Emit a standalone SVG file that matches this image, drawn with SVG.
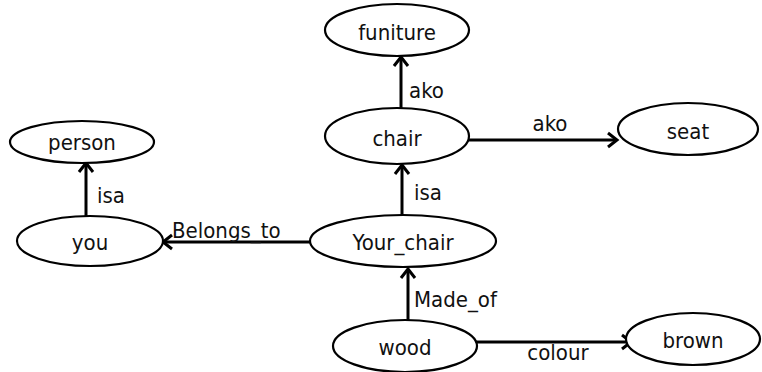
<svg xmlns="http://www.w3.org/2000/svg" width="762" height="372" viewBox="0 0 762 372">
<style>
.n{fill:#fff;stroke:#000;stroke-width:2.2}
.t{font-family:"DejaVu Sans Condensed","DejaVu Sans",sans-serif;font-stretch:condensed;font-size:22px;fill:#111;text-anchor:middle}
.l{font-family:"DejaVu Sans Condensed","DejaVu Sans",sans-serif;font-stretch:condensed;font-size:22px;fill:#111}
.e{stroke:#000;stroke-width:3;fill:none;marker-end:url(#a)}
</style>
<defs>
<marker id="a" markerUnits="userSpaceOnUse" markerWidth="16" markerHeight="18" refX="12" refY="8" orient="auto" viewBox="0 0 16 16">
<path d="M3,1 L12,8 L3,15" fill="none" stroke="#000" stroke-width="3"/>
</marker>
</defs>
<rect width="762" height="372" fill="#fff"/>
<g id="connectors">
<line class="e" x1="401" y1="108" x2="401" y2="57"/>
<line class="e" x1="468" y1="140" x2="617" y2="140"/>
<line class="e" x1="86" y1="216" x2="86" y2="163"/>
<line class="e" x1="311" y1="242" x2="163" y2="242"/>
<line class="e" x1="402" y1="215" x2="402" y2="165"/>
<line class="e" x1="408" y1="320" x2="408" y2="269"/>
<line class="e" x1="476" y1="342" x2="631" y2="342"/>
<text class="l" x="409" y="98">ako</text>
<text class="t" x="550" y="131">ako</text>
<text class="l" x="97" y="203">isa</text>
<text class="l" x="172" y="238">Belongs_to</text>
<text class="l" x="414" y="200">isa</text>
<text class="l" x="414" y="307">Made_of</text>
<text class="t" x="558" y="360">colour</text>
</g>
<g id="funiture"><ellipse class="n" cx="397" cy="30" rx="72" ry="26"/><text class="t" x="397" y="40">funiture</text></g>
<g id="chair"><ellipse class="n" cx="397" cy="136" rx="72" ry="28"/><text class="t" x="397" y="146">chair</text></g>
<g id="seat"><ellipse class="n" cx="688" cy="129" rx="70" ry="26"/><text class="t" x="688" y="139">seat</text></g>
<g id="person"><ellipse class="n" cx="82" cy="142" rx="72" ry="21"/><text class="t" x="82" y="150">person</text></g>
<g id="you"><ellipse class="n" cx="90" cy="241" rx="73" ry="25"/><text class="t" x="90" y="250">you</text></g>
<g id="your_chair"><ellipse class="n" cx="403" cy="241" rx="93" ry="26"/><text class="t" x="403" y="250">Your_chair</text></g>
<g id="wood"><ellipse class="n" cx="405" cy="346" rx="72" ry="26"/><text class="t" x="405" y="355">wood</text></g>
<g id="brown"><ellipse class="n" cx="693" cy="339" rx="67" ry="26"/><text class="t" x="693" y="348">brown</text></g>
</svg>
